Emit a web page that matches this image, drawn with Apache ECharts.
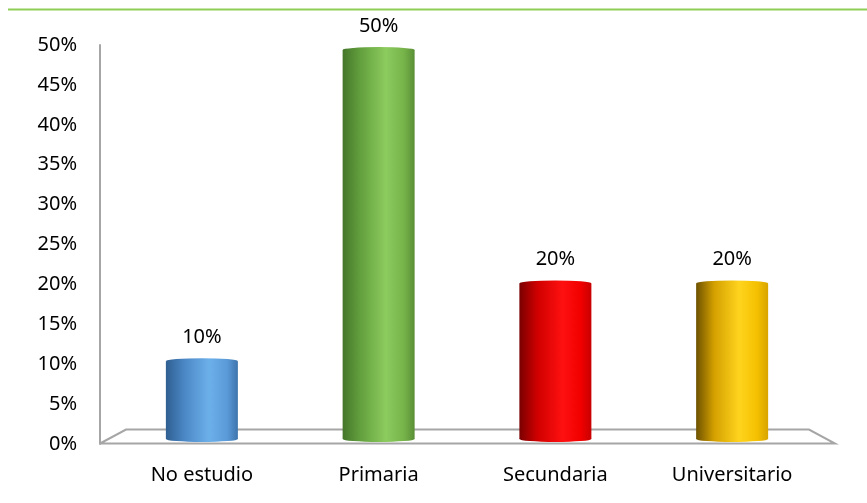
<!DOCTYPE html>
<html>
<head>
<meta charset="utf-8">
<script src="https://cdn.jsdelivr.net/npm/echarts@6/dist/echarts.min.js"></script>
<style>
html,body{margin:0;padding:0;background:#fff;}
#c{width:867px;height:503px;}
</style>
</head>
<body>
<div id="c"></div>
<script>
var categories = ['No estudio', 'Primaria', 'Secundaria', 'Universitario'];
var values = [10, 50, 20, 20];
var yTicks = [0, 5, 10, 15, 20, 25, 30, 35, 40, 45, 50];

var palettes = [
  ['#2f5f91', '#4a86c4', '#6cb0ea', '#5a9ad8', '#3e74ad'],
  ['#44762a', '#63a03e', '#8ccb5e', '#76b44a', '#5a8f36'],
  ['#7a0000', '#d00000', '#ff1010', '#f20000', '#c80000'],
  ['#6e5200', '#d4a000', '#ffd41e', '#f4c000', '#d8a400']
];
function grad(p) {
  return new echarts.graphic.LinearGradient(0, 0, 1, 0, [
    {offset: 0, color: p[0]},
    {offset: 0.25, color: p[1]},
    {offset: 0.6, color: p[2]},
    {offset: 0.85, color: p[3]},
    {offset: 1, color: p[4]}
  ]);
}
var barData = values.map(function (v, i) {
  return {value: v, itemStyle: {color: grad(palettes[i])}};
});
var capData = values.map(function (v, i) {
  return {value: v, itemStyle: {color: grad(palettes[i])}};
});

var font = 'Noto Sans';
var chart = echarts.init(document.getElementById('c'), null, {renderer: 'canvas'});
var option = {
  animation: false,
  backgroundColor: '#fff',
  grid: [
    {left: 100, right: 32, top: 45, bottom: 59},
    {left: 113.5, right: 46.5, top: 50, bottom: 64}
  ],
  xAxis: [
    {gridIndex: 0, type: 'value', min: 0, max: 1, show: false},
    {
      gridIndex: 1, type: 'category', data: categories,
      axisLine: {show: false}, axisTick: {show: false},
      axisLabel: {margin: 26, fontFamily: font, fontSize: 20, color: '#000'}
    }
  ],
  yAxis: [
    {
      gridIndex: 0, type: 'value', min: 0, max: 50, interval: 5,
      axisLine: {show: true, lineStyle: {color: '#a6a6a6', width: 2}},
      axisTick: {show: false},
      splitLine: {show: false},
      axisLabel: {
        margin: 23, fontFamily: font, fontSize: 20, color: '#000',
        padding: [6, 0, 0, 0],
        formatter: function (v) { return yTicks.indexOf(v) >= 0 ? v + '%' : ''; }
      }
    },
    {gridIndex: 1, type: 'value', min: 0, max: 50, show: false}
  ],
  series: [
    {
      type: 'bar', xAxisIndex: 1, yAxisIndex: 1, data: barData,
      barWidth: 72, z: 3,
      label: {
        show: true, position: 'top', distance: 14,
        fontFamily: font, fontSize: 20, color: '#000',
        formatter: function (p) { return p.value + '%'; }
      }
    },
    {
      type: 'pictorialBar', xAxisIndex: 1, yAxisIndex: 1, data: capData,
      symbol: 'circle', symbolSize: [72, 6], symbolPosition: 'end',
      symbolOffset: [0, '-50%'], z: 4, silent: true
    },
    {
      type: 'pictorialBar', xAxisIndex: 1, yAxisIndex: 1, data: capData,
      symbol: 'circle', symbolSize: [72, 6], symbolPosition: 'start',
      symbolOffset: [0, '50%'], z: 4, silent: true
    }
  ],
  graphic: [
    {
      type: 'line', z: 1,
      shape: {x1: 8, y1: 9.5, x2: 867, y2: 9.5},
      style: {stroke: '#8fce55', lineWidth: 2}
    },
    {
      type: 'polyline', z: 1,
      shape: {points: [[100, 443.5], [126, 429.5], [809, 429.5], [835, 443.5], [100, 443.5]]},
      style: {stroke: '#a6a6a6', lineWidth: 2, fill: null}
    }
  ]
};
chart.setOption(option);
</script>
</body>
</html>
